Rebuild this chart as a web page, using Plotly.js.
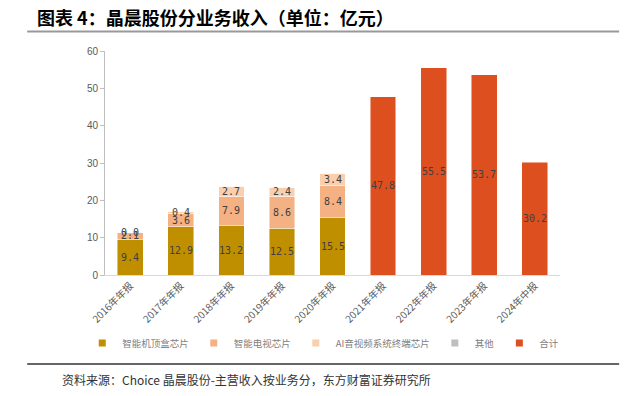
<!DOCTYPE html>
<html>
<head>
<meta charset="utf-8">
<script src="https://cdn.plot.ly/plotly-3.0.1.min.js"></script>
<style>html,body{margin:0;padding:0;background:#fff;}#chart{width:629px;height:396px;}</style>
</head>
<body>
<div id="chart"></div>
<script>
const categories = ['2016年年报','2017年年报','2018年年报','2019年年报','2020年年报','2021年年报','2022年年报','2023年年报','2024年中报'];
const stbChip   = [9.4, 12.9, 13.2, 12.5, 15.5, null, null, null, null];
const tvChip    = [2.1, 3.6, 7.9, 8.6, 8.4, null, null, null, null];
const aiChip    = [0.0, 0.4, 2.7, 2.4, 3.4, null, null, null, null];
const otherRev  = [0.0, 0.0, 0.0, 0.0, 0.0, null, null, null, null];
const totalRev  = [null, null, null, null, null, 47.8, 55.5, 53.7, 30.2];
const seriesNames = ['智能机顶盒芯片','智能电视芯片','AI音视频系统终端芯片','其他','合计'];
const seriesColors = ['#BF8F00','#F4B183','#F9CFAE','#BFBFBF','#DE4F1F'];
const seriesData = [stbChip, tvChip, aiChip, otherRev, totalRev];
const labelled = [true, true, true, false, true];

const traces = [];
seriesData.forEach((d, i) => {
  traces.push({
    type: 'bar', x: categories, y: d, name: seriesNames[i],
    marker: {color: seriesColors[i], line: {color: 'rgba(255,255,255,0.6)', width: 0.8}},
    showlegend: false, hoverinfo: 'y'
  });
});
// legend proxies (small squares)
seriesData.forEach((d, i) => {
  traces.push({
    type: 'scatter', mode: 'markers', x: [null], y: [null], name: seriesNames[i],
    marker: {symbol: 'square', size: 7, color: seriesColors[i]}, showlegend: true, hoverinfo: 'skip'
  });
});

// value labels centred in each stacked segment
const annotations = [];
const base = categories.map(() => 0);
seriesData.forEach((d, i) => {
  d.forEach((v, j) => {
    if (v === null) return;
    if (labelled[i]) {
      annotations.push({
        x: categories[j], y: base[j] + v / 2, xref: 'x', yref: 'y',
        text: v.toFixed(1), showarrow: false,
        font: {family: 'DejaVu Sans Mono, monospace', size: 10, color: '#404040'}
      });
    }
    base[j] += v;
  });
});

// title, source
annotations.push({
  xref: 'paper', yref: 'paper', x: -0.153, y: 1.152, xanchor: 'left', yanchor: 'middle',
  text: '<b>图表 4：晶晨股份分业务收入（单位：亿元）</b>', showarrow: false,
  font: {family: 'Noto Sans CJK SC', size: 18, color: '#000'}
});
annotations.push({
  xref: 'paper', yref: 'paper', x: -0.098, y: -0.465, xanchor: 'left', yanchor: 'middle',
  text: '资料来源：Choice 晶晨股份-主营收入按业务分，东方财富证券研究所', showarrow: false,
  font: {family: 'Noto Sans CJK SC', size: 12, color: '#333'}
});

const layout = {
  width: 629, height: 396,
  margin: {l: 105, r: 69, t: 51, b: 121, autoexpand: false},
  paper_bgcolor: '#fff', plot_bgcolor: '#fff',
  barmode: 'stack', bargap: 0.49,
  font: {family: 'Liberation Sans, Arial', color: '#595959'},
  xaxis: {
    type: 'category', tickangle: -45, showgrid: false, automargin: false,
    showline: true, linecolor: '#D9D9D9', linewidth: 1, ticks: '',
    tickfont: {family: 'Noto Sans CJK SC', size: 10, color: '#595959'}
  },
  yaxis: {
    range: [0, 60], dtick: 10, showgrid: false, zeroline: false, automargin: false,
    showline: true, linecolor: '#BFBFBF', linewidth: 1, ticks: 'outside', ticklen: 4, tickcolor: '#BFBFBF',
    tickfont: {family: 'Liberation Sans, Arial', size: 10, color: '#595959'}
  },
  legend: {
    orientation: 'h', x: -0.05, xanchor: 'left', y: -0.304, yanchor: 'middle',
    traceorder: 'normal',
    font: {family: 'Noto Sans CJK SC', size: 9.5, color: '#7F7F7F'},
    itemwidth: 30, bgcolor: 'rgba(0,0,0,0)'
  },
  annotations: annotations,
  shapes: [
    {type: 'line', xref: 'paper', yref: 'paper', x0: -0.171, x1: 1.13, y0: 1.087, y1: 1.087, line: {color: '#999999', width: 2}},
    {type: 'line', xref: 'paper', yref: 'paper', x0: -0.171, x1: 1.13, y0: -0.397, y1: -0.397, line: {color: '#333333', width: 1.5}}
  ],
  showlegend: true
};

Plotly.newPlot('chart', traces, layout, {displayModeBar: false, staticPlot: true});
</script>
</body>
</html>
